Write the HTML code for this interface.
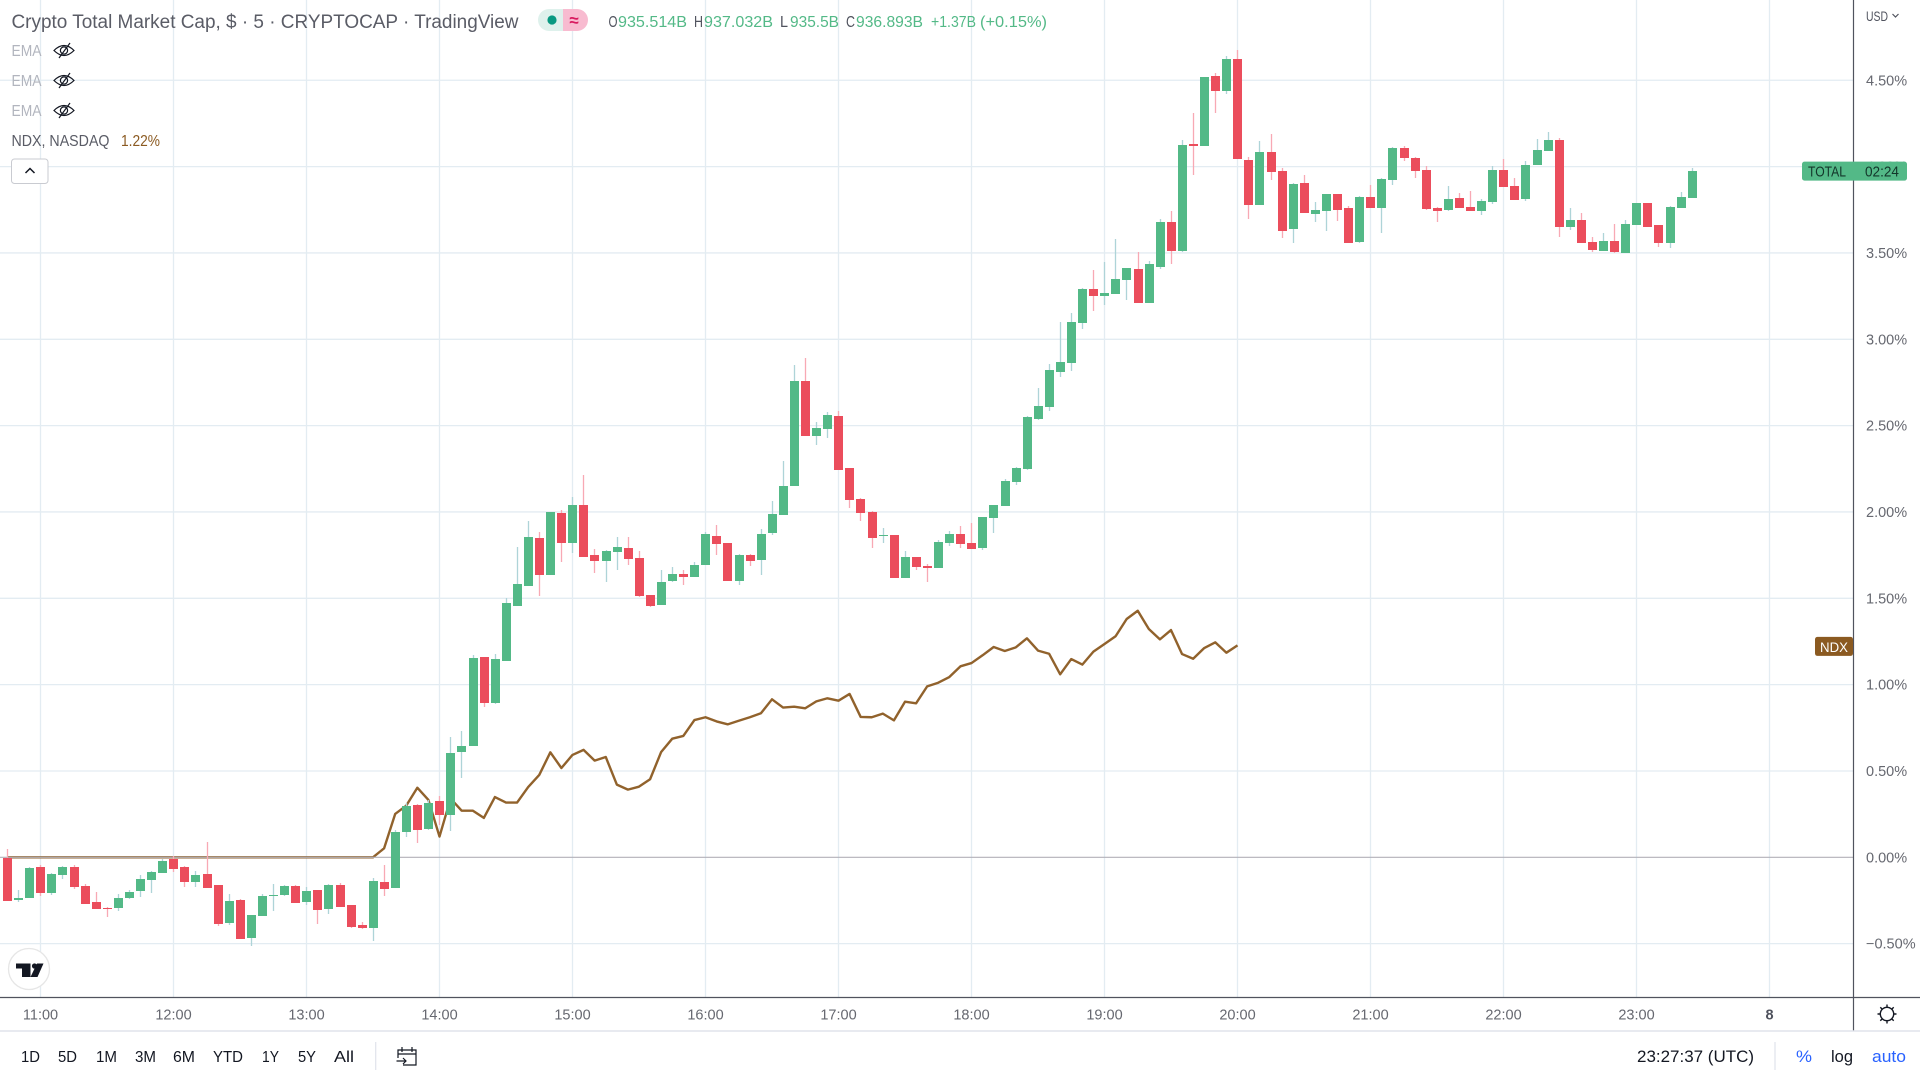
<!DOCTYPE html>
<html lang="en">
<head>
<meta charset="utf-8">
<title>Crypto Total Market Cap chart</title>
<style>
  html, body { margin: 0; padding: 0; background: #ffffff; width: 1920px; height: 1080px; overflow: hidden; }
  svg { display: block; position: absolute; left: 0; top: 0; font-family: "Liberation Sans", sans-serif; }
</style>
</head>
<body>
<svg id="chart" xmlns="http://www.w3.org/2000/svg" width="1920" height="1080" viewBox="0 0 1920 1080">
  <rect x="0" y="0" width="1920" height="1080" fill="#ffffff"/>
  <g id="grid"></g>
  <g id="series"></g>

  <line x1="0" y1="997.5" x2="1920" y2="997.5" stroke="#50535e" stroke-width="1.2"/>
  <line x1="1853.5" y1="0" x2="1853.5" y2="1031" stroke="#50535e" stroke-width="1.2"/>
  <line x1="0" y1="1031" x2="1920" y2="1031" stroke="#e0e3eb" stroke-width="1.4"/>

  <g id="axis-labels"></g>

  <text x="11.5" y="28" font-size="19" fill="#5a5c66" textLength="507" lengthAdjust="spacingAndGlyphs">Crypto Total Market Cap, $ · 5 · CRYPTOCAP · TradingView</text>

  <g>
    <path d="M563 9H549a11 11 0 0 0 0 22H563Z" fill="#def1ec"/>
    <path d="M563 9H577a11 11 0 0 1 0 22H563Z" fill="#f8bbd0"/>
    <circle cx="552" cy="20" r="4.6" fill="#089981"/>
    <text x="574" y="26" font-size="17" font-weight="bold" text-anchor="middle" fill="#d81b60">≈</text>
  </g>

  <g font-size="15.5">
    <text x="608.5" y="27" fill="#50535e" textLength="9" lengthAdjust="spacingAndGlyphs">O</text>
    <text x="618" y="27" fill="#53b987" textLength="69" lengthAdjust="spacingAndGlyphs">935.514B</text>
    <text x="694" y="27" fill="#50535e" textLength="9" lengthAdjust="spacingAndGlyphs">H</text>
    <text x="704" y="27" fill="#53b987" textLength="69" lengthAdjust="spacingAndGlyphs">937.032B</text>
    <text x="780" y="27" fill="#50535e" textLength="8" lengthAdjust="spacingAndGlyphs">L</text>
    <text x="790" y="27" fill="#53b987" textLength="49" lengthAdjust="spacingAndGlyphs">935.5B</text>
    <text x="846" y="27" fill="#50535e" textLength="9" lengthAdjust="spacingAndGlyphs">C</text>
    <text x="856" y="27" fill="#53b987" textLength="67" lengthAdjust="spacingAndGlyphs">936.893B</text>
    <text x="931" y="27" fill="#53b987" textLength="45" lengthAdjust="spacingAndGlyphs">+1.37B</text>
    <text x="980" y="27" fill="#53b987" textLength="67" lengthAdjust="spacingAndGlyphs">(+0.15%)</text>
  </g>

  <g>
    <text x="11.5" y="56" font-size="15.5" fill="#b2b5be" textLength="30" lengthAdjust="spacingAndGlyphs">EMA</text>
    <g transform="translate(64 50.5)" fill="none" stroke="#131722" stroke-width="1.2">
      <path d="M-10 0Q0 -10 10 0Q0 10 -10 0Z"/><circle r="3.6"/><line x1="-5" y1="7.5" x2="6" y2="-7.5"/>
    </g>
  </g>
  <g>
    <text x="11.5" y="86" font-size="15.5" fill="#b2b5be" textLength="30" lengthAdjust="spacingAndGlyphs">EMA</text>
    <g transform="translate(64 80.5)" fill="none" stroke="#131722" stroke-width="1.2">
      <path d="M-10 0Q0 -10 10 0Q0 10 -10 0Z"/><circle r="3.6"/><line x1="-5" y1="7.5" x2="6" y2="-7.5"/>
    </g>
  </g>
  <g>
    <text x="11.5" y="116" font-size="15.5" fill="#b2b5be" textLength="30" lengthAdjust="spacingAndGlyphs">EMA</text>
    <g transform="translate(64 110.5)" fill="none" stroke="#131722" stroke-width="1.2">
      <path d="M-10 0Q0 -10 10 0Q0 10 -10 0Z"/><circle r="3.6"/><line x1="-5" y1="7.5" x2="6" y2="-7.5"/>
    </g>
  </g>
  <g>
    <text x="11.5" y="146" font-size="15.5" fill="#5a5c66" textLength="98" lengthAdjust="spacingAndGlyphs">NDX, NASDAQ</text>
    <text x="121" y="146" font-size="15.5" fill="#8b5a21" textLength="39" lengthAdjust="spacingAndGlyphs">1.22%</text>
  </g>
  <g>
    <rect x="11.5" y="159" width="36.5" height="24.5" rx="3" fill="#ffffff" stroke="#c9cbd1" stroke-width="1"/>
    <path d="M25.5 173L30 168.5L34.5 173" fill="none" stroke="#131722" stroke-width="1.5"/>
  </g>

  <g>
    <circle cx="29" cy="969" r="20.5" fill="#ffffff" stroke="#e6e6e6" stroke-width="1.3"/>
    <path d="M16 963.5H30.5V977H22V968.5H16Z" fill="#131722"/>
    <circle cx="34.5" cy="966" r="2.6" fill="#131722"/>
    <path d="M37 963.5H43.5L37.5 977H30.5Z" fill="#131722"/>
  </g>

  <g>
    <text x="1866" y="21" font-size="14" fill="#50535e" textLength="22" lengthAdjust="spacingAndGlyphs">USD</text>
    <path d="M1892.5 14L1895.5 17L1898.5 14" fill="none" stroke="#50535e" stroke-width="1.2"/>
  </g>

  <g transform="translate(1887 1014)" fill="none" stroke="#131722" stroke-width="1.4">
    <circle r="6.7"/>
    <path d="M0 -9.5V-7M0 9.5V7M-9.5 0H-7M9.5 0H7M-6.7 -6.7L-5 -5M6.7 -6.7L5 -5M-6.7 6.7L-5 5M6.7 6.7L5 5"/>
  </g>

  <g font-size="16" fill="#131722">
    <text x="21" y="1062" textLength="19" lengthAdjust="spacingAndGlyphs">1D</text>
    <text x="58" y="1062" textLength="19" lengthAdjust="spacingAndGlyphs">5D</text>
    <text x="96" y="1062" textLength="21" lengthAdjust="spacingAndGlyphs">1M</text>
    <text x="135" y="1062" textLength="21" lengthAdjust="spacingAndGlyphs">3M</text>
    <text x="173" y="1062" textLength="22" lengthAdjust="spacingAndGlyphs">6M</text>
    <text x="213" y="1062" textLength="30" lengthAdjust="spacingAndGlyphs">YTD</text>
    <text x="262" y="1062" textLength="17" lengthAdjust="spacingAndGlyphs">1Y</text>
    <text x="298" y="1062" textLength="18" lengthAdjust="spacingAndGlyphs">5Y</text>
    <text x="334" y="1062" textLength="20" lengthAdjust="spacingAndGlyphs">All</text>
  </g>
  <line x1="375.7" y1="1042" x2="375.7" y2="1070" stroke="#e0e3eb" stroke-width="1.2"/>
  <g fill="none" stroke="#131722" stroke-width="1.2">
    <path d="M398 1058V1050H416V1065H403M398 1054H416M402 1047V1052M412 1047V1052"/>
    <path d="M396.5 1061H406M403 1058L406 1061L403 1064"/>
  </g>

  <text x="1637" y="1062" font-size="17" fill="#131722" textLength="117" lengthAdjust="spacingAndGlyphs">23:27:37 (UTC)</text>
  <line x1="1775" y1="1042" x2="1775" y2="1070" stroke="#e0e3eb" stroke-width="1.2"/>
  <text x="1796" y="1062" font-size="17" fill="#2962ff" textLength="16" lengthAdjust="spacingAndGlyphs">%</text>
  <text x="1831" y="1062" font-size="17" fill="#131722" textLength="22" lengthAdjust="spacingAndGlyphs">log</text>
  <text x="1872" y="1062" font-size="17" fill="#2962ff" textLength="34" lengthAdjust="spacingAndGlyphs">auto</text>
</svg>

<script>
// Percent change values. Bars run from 10:45 to 23:25, every 5 minutes.
const opens = [
  -0.006,-0.247,-0.235,-0.056,-0.207,-0.102,-0.056,-0.166,-0.259,-0.291,-0.293,-0.235,-0.195,
  -0.131,-0.091,-0.010,-0.056,-0.143,-0.097,-0.160,-0.380,-0.247,-0.467,-0.340,-0.224,-0.218,
  -0.166,-0.259,-0.189,-0.299,-0.160,-0.276,-0.392,-0.409,-0.143,-0.178,0.147,0.303,0.164,0.326,
  0.245,0.610,0.645,1.160,0.894,1.137,1.455,1.571,1.849,1.635,1.994,1.820,2.040,1.751,1.716,
  1.768,1.791,1.733,1.519,1.461,1.600,1.641,1.623,1.693,1.861,1.820,1.600,1.751,1.722,1.878,
  1.982,2.150,2.758,2.440,2.480,2.555,2.254,2.075,1.999,1.861,1.866,1.617,1.739,1.687,1.675,
  1.820,1.872,1.820,1.791,1.965,2.034,2.173,2.248,2.538,2.607,2.810,2.862,3.094,3.291,3.250,
  3.262,3.343,3.406,3.210,3.418,3.679,3.511,4.130,4.119,4.524,4.437,4.622,4.038,3.777,4.084,
  3.974,3.638,3.904,3.725,3.742,3.841,3.760,3.563,3.823,3.760,3.922,4.107,4.049,3.980,3.760,
  3.748,3.818,3.765,3.742,3.794,3.980,3.887,3.812,4.009,4.090,4.153,3.650,3.690,3.563,3.511,
  3.569,3.499,3.661,3.789,3.661,3.557,3.760,3.817
];
const closes = [
  -0.253,-0.235,-0.062,-0.207,-0.097,-0.056,-0.172,-0.270,-0.299,-0.299,-0.235,-0.201,-0.125,
  -0.085,-0.021,-0.068,-0.143,-0.102,-0.178,-0.386,-0.253,-0.473,-0.334,-0.224,-0.218,-0.166,
  -0.264,-0.195,-0.305,-0.160,-0.288,-0.403,-0.409,-0.137,-0.183,0.147,0.297,0.158,0.315,0.245,
  0.604,0.645,1.154,0.894,1.148,1.473,1.583,1.855,1.635,1.999,1.820,2.040,1.739,1.716,1.774,
  1.797,1.727,1.513,1.455,1.594,1.641,1.623,1.693,1.872,1.814,1.600,1.751,1.716,1.872,1.988,
  2.150,2.758,2.440,2.486,2.561,2.243,2.069,1.994,1.849,1.866,1.617,1.739,1.681,1.675,1.826,
  1.872,1.814,1.785,1.971,2.040,2.179,2.254,2.550,2.613,2.822,2.868,3.099,3.291,3.250,3.267,
  3.349,3.412,3.210,3.435,3.679,3.511,4.124,4.119,4.518,4.437,4.622,4.043,3.777,4.084,3.968,
  3.626,3.899,3.731,3.748,3.841,3.748,3.557,3.823,3.760,3.928,4.107,4.049,3.974,3.754,3.742,
  3.812,3.760,3.742,3.800,3.980,3.881,3.806,4.009,4.095,4.153,3.650,3.690,3.557,3.516,3.569,
  3.505,3.667,3.789,3.650,3.557,3.765,3.823,3.974
];
const highs = [
  0.048,-0.189,-0.056,-0.046,-0.091,-0.050,-0.044,-0.154,-0.201,-0.286,-0.212,-0.189,-0.102,
  -0.079,-0.010,0.008,-0.050,-0.079,0.089,-0.160,-0.212,-0.241,-0.334,-0.212,-0.154,-0.160,
  -0.160,-0.172,-0.189,-0.154,-0.149,-0.276,-0.374,-0.120,-0.044,0.158,0.315,0.309,0.332,0.355,
  0.697,0.731,1.172,1.160,1.177,1.502,1.795,1.947,1.884,1.999,2.011,2.086,2.214,1.785,1.779,
  1.855,1.855,1.774,1.519,1.664,1.681,1.664,1.710,1.884,1.924,1.820,1.756,1.756,1.901,2.063,
  2.295,2.851,2.891,2.521,2.578,2.584,2.254,2.081,2.005,1.907,1.866,1.774,1.739,1.698,1.837,
  1.889,1.918,1.936,1.971,2.040,2.191,2.260,2.555,2.717,2.856,3.099,3.151,3.296,3.401,3.447,
  3.580,3.412,3.505,3.453,3.696,3.742,4.153,4.310,4.518,4.541,4.640,4.674,4.055,4.148,4.188,
  3.991,3.904,3.951,3.794,3.841,3.841,3.771,3.829,3.893,3.933,4.113,4.119,4.055,4.003,3.765,
  3.887,3.846,3.858,3.812,4.003,4.043,3.933,4.032,4.159,4.200,4.165,3.760,3.731,3.592,3.615,
  3.667,3.690,3.789,3.789,3.661,3.771,3.852,3.991
];
const lows = [
  -0.253,-0.259,-0.235,-0.222,-0.218,-0.125,-0.183,-0.270,-0.299,-0.345,-0.311,-0.241,-0.230,
  -0.207,-0.091,-0.085,-0.172,-0.172,-0.178,-0.398,-0.392,-0.473,-0.513,-0.340,-0.311,-0.224,
  -0.264,-0.276,-0.386,-0.328,-0.288,-0.409,-0.415,-0.484,-0.224,-0.178,0.118,0.083,0.158,0.187,
  0.152,0.459,0.645,0.870,0.888,1.137,1.455,1.571,1.513,1.635,1.710,1.762,1.739,1.646,1.594,
  1.664,1.693,1.507,1.449,1.461,1.594,1.577,1.623,1.693,1.751,1.600,1.577,1.687,1.635,1.866,
  1.982,2.150,2.440,2.387,2.428,2.243,2.023,1.947,1.791,1.820,1.617,1.617,1.664,1.594,1.675,
  1.803,1.791,1.785,1.779,1.878,2.034,2.156,2.243,2.532,2.584,2.781,2.816,3.059,3.163,3.198,
  3.262,3.227,3.210,3.210,3.406,3.435,3.505,3.951,4.119,4.310,4.420,4.043,3.696,3.777,3.922,
  3.586,3.557,3.731,3.679,3.626,3.684,3.557,3.557,3.760,3.615,3.893,4.032,3.933,3.748,3.679,
  3.742,3.760,3.742,3.719,3.783,3.881,3.806,3.800,4.009,4.090,3.592,3.632,3.557,3.505,3.511,
  3.499,3.499,3.661,3.650,3.534,3.528,3.760,3.817
];
const ndxValues = [
  0,0,0,0,0,0,0,0,0,0,0,0,0,0,0,0,0,0,0,0,0,0,0,0,0,0,0,0,0,0,0,0,0,0,
  0.052,0.251,0.299,0.403,0.332,0.120,0.340,0.270,0.270,0.228,0.349,0.317,0.317,0.407,0.477,
  0.608,0.517,0.593,0.622,0.560,0.581,0.421,0.392,0.409,0.452,0.610,0.687,0.703,0.795,0.811,
  0.787,0.770,0.791,0.811,0.834,0.915,0.867,0.872,0.863,0.903,0.921,0.907,0.946,0.813,0.811,
  0.832,0.793,0.901,0.892,0.990,1.011,1.044,1.106,1.125,1.170,1.218,1.195,1.216,1.268,1.197,
  1.179,1.060,1.148,1.116,1.191,1.235,1.280,1.380,1.428,1.322,1.262,1.316,1.177,1.150,1.212,
  1.245,1.185,1.227
];
const priceTicks = [4.5, 4, 3.5, 3, 2.5, 2, 1.5, 1, 0.5, 0, -0.5];
const priceTickLabels = ["4.50%","4.00%","3.50%","3.00%","2.50%","2.00%","1.50%","1.00%","0.50%","0.00%","\u22120.50%"];
const timeTickLabels = ["11:00","12:00","13:00","14:00","15:00","16:00","17:00","18:00","19:00","20:00","21:00","22:00","23:00","8"];
const seriesTotalLabel = "TOTAL";
const barCountdown = "02:24";
const seriesNdxLabel = "NDX";

const NS = "http://www.w3.org/2000/svg";
const FIRST_HOUR_BAR = 3, BARS_PER_HOUR = 12;
const xScale = function (i) { return 40.5 + (i - FIRST_HOUR_BAR) * (133 / BARS_PER_HOUR); };
const yScale = function (v) { return 857.3 - v * 172.67; };
const grid = document.getElementById("grid");
const series = document.getElementById("series");
const axisLabels = document.getElementById("axis-labels");

function make(tag, attrs, parent) {
  const el = document.createElementNS(NS, tag);
  for (const k in attrs) el.setAttribute(k, attrs[k]);
  parent.appendChild(el);
  return el;
}

priceTicks.forEach(function (v, i) {
  const y = yScale(v);
  if (v !== 0) {
    const line = make("line", { x1: 0, x2: 1853, y1: y, y2: y, stroke: "#e3ecf2", "stroke-width": 1.3 }, grid);
    
    
  }
  const label = make("text", { x: 1866, y: y + 5, "font-size": 14.5, fill: "#666870" }, axisLabels);
  
  
  label.textContent = priceTickLabels[i];
});

timeTickLabels.forEach(function (t, i) {
  const x = xScale(FIRST_HOUR_BAR + i * BARS_PER_HOUR);
  const line = make("line", { x1: x, x2: x, y1: 0, y2: 997, stroke: "#e3ecf2", "stroke-width": 1.3 }, grid);
  
  
  const bold = t.length === 1;
  const label = make("text", { x: x, y: 1019.5, "font-size": 14.5, "text-anchor": "middle", fill: bold ? "#50535e" : "#666870", "font-weight": bold ? "bold" : "normal" }, axisLabels);
  
  
  label.textContent = t;
});

const ndxLine = make("polyline", {
  points: ndxValues.map(function (v, i) { return xScale(i).toFixed(2) + "," + yScale(v).toFixed(2); }).join(" "),
  fill: "none", stroke: "#8b5a21", "stroke-width": 2.4, "stroke-linejoin": "round", "stroke-opacity": 0.95
}, series);



const zeroLine = make("line", { x1: 0, x2: 1853, y1: yScale(0), y2: yScale(0), stroke: "#b2b0b8", "stroke-width": 1.2 }, series);



opens.forEach(function (o, i) {
  const c = closes[i];
  const up = c >= o;
  const left = Math.round(xScale(i) - 4.2);
  const top = Math.round(yScale(Math.max(o, c)));
  const bottom = Math.round(yScale(Math.min(o, c)));
  const wick = make("line", {
    x1: left + 4.5, x2: left + 4.5, y1: Math.round(yScale(highs[i])), y2: Math.round(yScale(lows[i])),
    stroke: up ? "#aed4d8" : "#f8a9b4", "stroke-width": 1.3
  }, series);
  
  
  const body = make("rect", {
    x: left, y: top, width: 9, height: Math.max(bottom - top, 1),
    fill: up ? "#53b987" : "#eb4d5c"
  }, series);
  
  
});

const totalY = yScale(closes[closes.length - 1]);
const totalTag = make("rect", { x: 1802, y: totalY - 9.5, width: 105, height: 19, rx: 2.5, fill: "#53b987" }, axisLabels);


const totalName = make("text", { x: 1808, y: totalY + 5.5, "font-size": 14.5, fill: "#13362a", textLength: 38, lengthAdjust: "spacingAndGlyphs" }, axisLabels);


totalName.textContent = seriesTotalLabel;
const totalCountdown = make("text", { x: 1865, y: totalY + 5.5, "font-size": 14.5, fill: "#13362a", textLength: 34, lengthAdjust: "spacingAndGlyphs" }, axisLabels);


totalCountdown.textContent = barCountdown;

const ndxY = yScale(ndxValues[ndxValues.length - 1]);
const ndxTag = make("rect", { x: 1815, y: ndxY - 8.5, width: 38, height: 19, rx: 2.5, fill: "#8b5a21" }, axisLabels);


const ndxName = make("text", { x: 1820, y: ndxY + 6.5, "font-size": 14, fill: "#ffffff", textLength: 28, lengthAdjust: "spacingAndGlyphs" }, axisLabels);


ndxName.textContent = seriesNdxLabel;
</script>
</body>
</html>
